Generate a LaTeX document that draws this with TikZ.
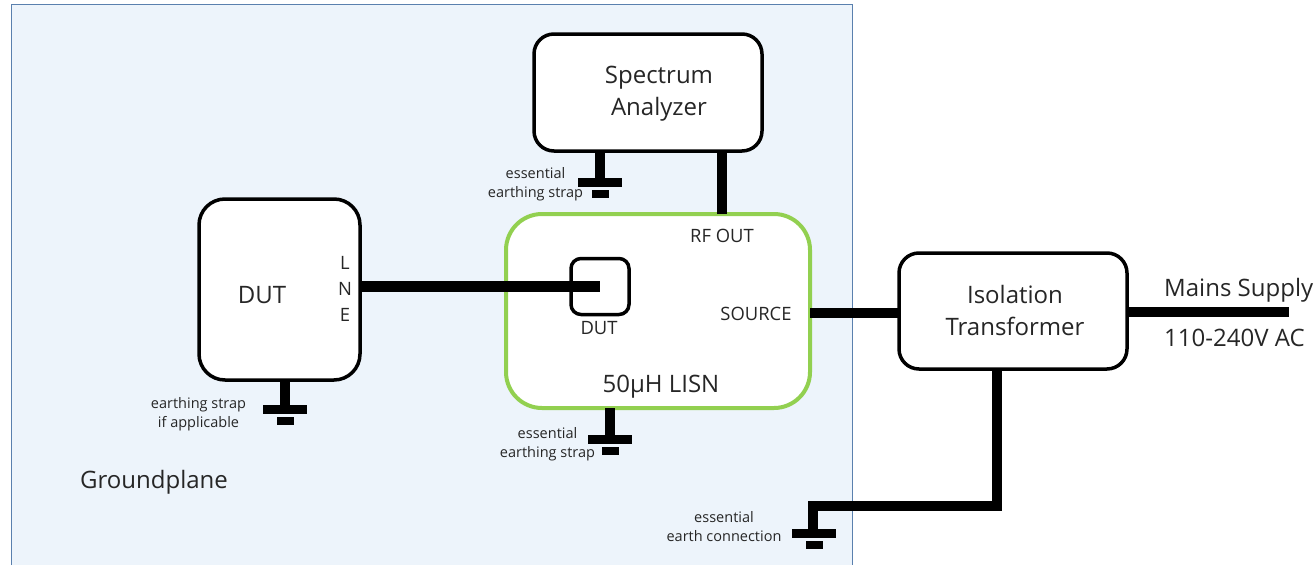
\documentclass[tikz,border=0pt]{standalone}
\usepackage{fontspec}
\setmainfont{Open Sans}
\usepackage{xcolor}
\usetikzlibrary{positioning}
\definecolor{planefill}{HTML}{EDF4FB}
\definecolor{planeline}{HTML}{5A80AE}
\definecolor{lisngreen}{HTML}{92D050}
\definecolor{inktext}{HTML}{262626}

\begin{document}
\begin{tikzpicture}[
    x=1pt, y=-1pt,
    node distance=3pt,
    every node/.style={text=inktext},
    box/.style={
        rectangle,
        draw=black,
        fill=white,
        line width=3.5pt,
        rounded corners=20pt,
        inner sep=0pt,
        outer sep=0pt
    },
    wire/.style={line width=10.5pt, black},
    gndbar/.style={rectangle, fill=black, inner sep=0pt, outer sep=0pt, minimum width=44pt, minimum height=9pt},
    gndtip/.style={rectangle, fill=black, inner sep=0pt, outer sep=0pt, minimum width=17pt, minimum height=7.5pt},
    small/.style={font=\fontsize{14.5}{19}\selectfont, align=center, inner sep=0pt},
    mid/.style={font=\fontsize{18.4}{26}\selectfont, align=center, inner sep=0pt},
    big/.style={font=\fontsize{24}{32}\selectfont, align=center, inner sep=0pt}
]
\useasboundingbox (0,0) rectangle (1314,565);

% Groundplane
\path[fill=planefill] (11,4) rectangle (852,565);
\draw[planeline, line width=1pt] (11,565) -- (11,4) -- (852,4) -- (852,565);

% Main boxes
\node[box, minimum width=161pt, minimum height=181pt, rounded corners=26pt] (dutbox) at (279.5,289.5) {};
\node[box, draw=lisngreen, line width=4pt, minimum width=304pt, minimum height=194pt, rounded corners=36pt,
      right=146pt of dutbox, yshift=-21.5pt] (lisnbox) {};
\node[box, minimum width=228pt, minimum height=117pt, above=63pt of lisnbox, xshift=-10pt] (specbox) {};
\node[box, minimum width=228pt, minimum height=116pt, right=89pt of lisnbox] (isobox) {};
\node[box, minimum width=58pt, minimum height=56pt, rounded corners=10pt] (innerdut) at (600,286.5) {};
\coordinate (mains) at (1289,312);

% Ground symbols
\node[gndbar, below=27pt of specbox, xshift=-48pt] (specgnd) {};
\node[gndtip, below=of specgnd] (spectip) {};
\node[gndbar, below=27pt of lisnbox, xshift=-48pt] (lisngnd) {};
\node[gndtip, below=of lisngnd] (lisntip) {};
\node[gndbar, below=25pt of dutbox, xshift=5.5pt] (dutgnd) {};
\node[gndtip, below=of dutgnd] (duttip) {};
\node[gndbar] (earthgnd) at (814,533.5) {};
\node[gndtip, below=of earthgnd] (earthtip) {};

% Wires
\draw[wire] (dutbox.east |- innerdut) -- (innerdut.center);
\draw[wire] (lisnbox.east) ++(0,2) -- ++(89,0);
\draw[wire] (isobox.east) ++(0,1) -- (mains);
\draw[wire] (lisnbox.north -| 722,0) -- (specbox.south -| 722,0);
\draw[wire] (specbox.south -| specgnd) -- (specgnd.north);
\draw[wire] (lisnbox.south -| lisngnd) -- (lisngnd.north);
\draw[wire] (dutbox.south -| dutgnd) -- (dutgnd.north);
\draw[wire] (isobox.south -| 997,0) -- (997,506) -- (813,506) -- (813,529);

% Labels
\node[big] (speclabel) at (659,94) {Spectrum\\Analyzer};
\node[big] (isolabel) at (1015,310) {Isolation\\Transformer};
\node[big] (dutlabel) at (262,295) {DUT};
\node[big] (lisnlabel) at (661,386.5) {50µH LISN};
\node[big] (planelabel) at (154,482) {Groundplane};
\node[big, anchor=west] (mainsa) at (1164,290) {Mains Supply};
\node[big, anchor=west] (mainsb) at (1164,338) {110-240V AC};
\node[mid] (lnelabel) at (345,288.5) {L\\N\\E};
\node[mid] (rflabel) at (722,235.5) {RF OUT};
\node[mid] (srclabel) at (756,313.5) {SOURCE};
\node[mid] (innerlabel) at (599,328.5) {DUT};
\node[small] (specnote) at (535.5,184.5) {essential\\earthing strap};
\node[small] (lisnnote) at (547.5,444.5) {essential\\earthing strap};
\node[small] (dutnote) at (198.5,414) {earthing strap\\if applicable};
\node[small] (earthnote) at (724,527) {essential\\earth connection};

\end{tikzpicture}
\end{document}
